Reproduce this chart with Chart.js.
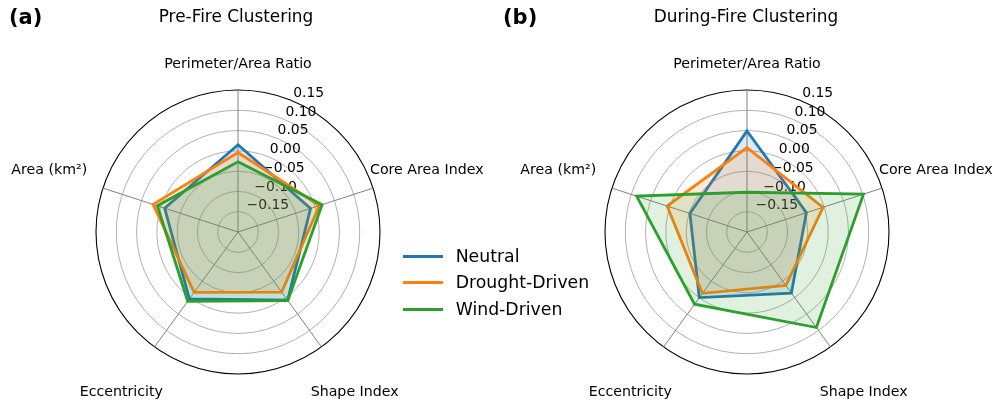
<!DOCTYPE html>
<html>
<head>
<meta charset="utf-8">
<script src="https://cdn.jsdelivr.net/npm/chart.js@4.4.1/dist/chart.umd.min.js"></script>
<style>
html,body{margin:0;padding:0;background:#fff;width:995px;height:401px;overflow:hidden;font-family:"DejaVu Sans",sans-serif;}
.box{position:absolute;top:0;height:401px;}
.txt{position:absolute;white-space:nowrap;color:#000;line-height:1;}
</style>
</head>
<body>
<div class="box" style="left:0;width:495px"><canvas id="c1"></canvas></div>
<div class="box" style="left:495px;width:500px"><canvas id="c2"></canvas></div>
<div class="txt" style="left:9px;top:6.7px;font-size:21px;font-weight:bold;">(a)</div>
<div class="txt" style="left:36px;width:400px;text-align:center;top:8.2px;font-size:16.9px;">Pre-Fire Clustering</div>
<div class="txt" style="left:503px;top:6.7px;font-size:21px;font-weight:bold;">(b)</div>
<div class="txt" style="left:546px;width:400px;text-align:center;top:8.2px;font-size:16.9px;">During-Fire Clustering</div>
<div id="legend"></div>
<script>
// ---- data ----
const categories = ['Perimeter/Area Ratio', 'Core Area Index', 'Shape Index', 'Eccentricity', 'Area (km²)'];
const seriesNames = ['Neutral', 'Drought-Driven', 'Wind-Driven'];
const seriesColors = ['#1f77b4', '#ff7f0e', '#2ca02c'];
const seriesFills = ['rgba(31,119,180,0.15)', 'rgba(255,127,14,0.15)', 'rgba(44,160,44,0.15)'];

const preNeutral = [0.015, -0.012, 0.008, 0.004, -0.010];
const preDrought = [-0.004, 0.011, -0.017, -0.016, 0.020];
const preWind    = [-0.027, 0.018, 0.009, 0.011, 0.009];

const durNeutral = [0.049, -0.046, -0.014, 0.000, -0.052];
const durDrought = [0.008, -0.003, -0.037, -0.013, 0.007];
const durWind    = [-0.102, 0.102, 0.091, 0.020, 0.086];

const tickValues = [-0.15, -0.10, -0.05, 0.00, 0.05, 0.10, 0.15];
const tickLabels = ['\u22120.15', '\u22120.10', '\u22120.05', '0.00', '0.05', '0.10', '0.15'];
const rMin = -0.2, rMax = 0.15;

// ---- plugin for matplotlib-style labels ----
const labelPlugin = {
  id: 'mplLabels',
  beforeDatasetsDraw(chart) {
    const s = chart.scales.r, ctx = chart.ctx;
    const a = 22.5 * Math.PI / 180;
    ctx.save();
    ctx.fillStyle = '#000';
    ctx.font = '13.9px "DejaVu Sans"';
    ctx.textAlign = 'left';
    ctx.textBaseline = 'middle';
    tickValues.forEach((v, i) => {
      const d = s.getDistanceFromCenterForValue(v);
      ctx.fillText(tickLabels[i], s.xCenter + d * Math.sin(a) + 0.8, s.yCenter - d * Math.cos(a) - 7.5);
    });
    ctx.restore();
  },
  afterDraw(chart) {
    const s = chart.scales.r, ctx = chart.ctx;
    ctx.save();
    ctx.fillStyle = '#000';
    ctx.font = '14.2px "DejaVu Sans"';
    ctx.textAlign = 'center';
    ctx.textBaseline = 'middle';
    chart.data.labels.forEach((lab, i) => {
      const p = s.getPointPosition(i, s.drawingArea + (i === 0 ? 26 : 56.5));
      ctx.fillText(lab, p.x, p.y);
    });
    ctx.restore();
  }
};

function makeRadar(id, series, pad) {
  const datasets = series.map((vals, i) => ({
    label: seriesNames[i],
    data: vals,
    borderColor: seriesColors[i],
    backgroundColor: seriesFills[i],
    borderWidth: 2.8,
    fill: 'start',
    pointRadius: 0,
    pointHoverRadius: 0,
    tension: 0,
    order: series.length - i
  }));
  return new Chart(document.getElementById(id), {
    type: 'radar',
    data: { labels: categories, datasets },
    options: {
      responsive: true,
      maintainAspectRatio: false,
      animation: false,
      layout: { padding: pad },
      plugins: { legend: { display: false }, tooltip: { enabled: false } },
      elements: { line: { borderJoinStyle: 'miter' } },
      scales: {
        r: {
          min: rMin, max: rMax,
          ticks: { display: false, stepSize: 0.05 },
          grid: {
            circular: true,
            color: c => Math.abs(c.tick.value - rMax) < 1e-6 ? '#000000' : (c.index === 0 ? 'rgba(0,0,0,0)' : '#b0b0b0'),
            lineWidth: c => Math.abs(c.tick.value - rMax) < 1e-6 ? 1.1 : 1
          },
          angleLines: { color: '#808080', lineWidth: 1 },
          pointLabels: { display: false }
        }
      }
    },
    plugins: [labelPlugin]
  });
}

makeRadar('c1', [preNeutral, preDrought, preWind], { left: 96, right: 114, top: 88, bottom: 25 });
makeRadar('c2', [durNeutral, durDrought, durWind], { left: 110, right: 105, top: 88, bottom: 25 });

// ---- legend ----
const legend = document.getElementById('legend');
const rowY = [256.7, 282.7, 309.3];
seriesNames.forEach((name, i) => {
  const line = document.createElement('div');
  line.style.cssText = `position:absolute;left:403px;width:40px;height:3px;top:${rowY[i] - 1.5}px;background:${seriesColors[i]};`;
  legend.appendChild(line);
  const t = document.createElement('div');
  t.className = 'txt';
  t.style.cssText = `left:455.7px;top:${rowY[i] - 8.3}px;font-size:17.3px;`;
  t.textContent = name;
  legend.appendChild(t);
});
</script>
</body>
</html>
